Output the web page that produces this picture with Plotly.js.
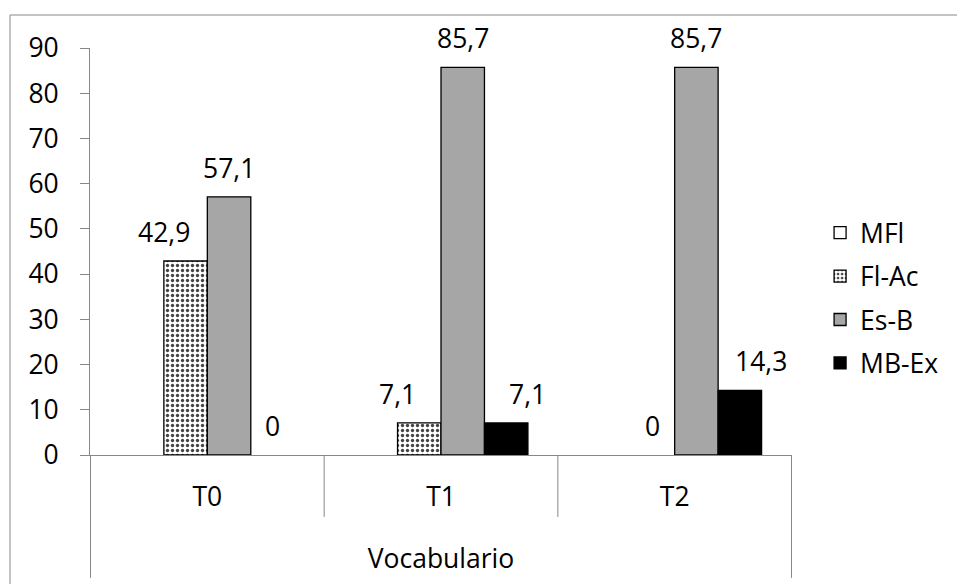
<!DOCTYPE html>
<html>
<head>
<meta charset="utf-8">
<script src="https://cdn.plot.ly/plotly-3.0.1.min.js"></script>
<style>html,body{margin:0;padding:0;background:#fff;}#chart{width:957px;height:584px;}</style>
</head>
<body>
<div id="chart"></div>
<script>
const categories = ["T0", "T1", "T2"];
const seriesNames = ["MFl", "Fl-Ac", "Es-B", "MB-Ex"];
const mfl  = [0, 0, 0];
const flac = [42.9, 7.1, 0];
const esb  = [57.1, 85.7, 85.7];
const mbex = [0, 7.1, 14.3];
const showLabels = [false, true, true, true];
const yTicks = [0, 10, 20, 30, 40, 50, 60, 70, 80, 90];
const xTitle = "Vocabulario";

const FONT = "Open Sans";
const FS = 26.5;
const GRAY = "#888888";
const values = [mfl, flac, esb, mbex];

const styles = [
  {color: "#ffffff"},
  {color: "#ffffff", pattern: {shape: ".", fgcolor: "#444444", bgcolor: "#ffffff", size: 5, solidity: 0.35}},
  {color: "#a6a6a6"},
  {color: "#000000"}
];

// zero-height bars are not drawn (as in the original), so their outline does not show
const traces = values.map((v, i) => ({
  type: "bar",
  name: seriesNames[i],
  x: categories,
  y: v.map(val => val === 0 ? null : val),
  legendgroup: "g" + i,
  marker: Object.assign({line: {color: "#000000", width: 1.3}}, styles[i]),
  hoverinfo: "x+y+name"
}));

const fmt = n => String(n).replace(".", ",");

// Data labels placed via data coordinates, with small Excel-like side offsets
const nS = values.length;
const bargap = 0.256;
const plotW = 957 - 90 - 165;
const catPx = plotW / categories.length;
const barPx = catPx * (1 - bargap) / nS;
const sideShift = [0, -22, 0, 21];
const annotations = [];
values.forEach((v, i) => {
  if (!showLabels[i]) return;
  v.forEach((val, j) => {
    const off = (i - (nS - 1) / 2) * barPx + (val > 0 ? sideShift[i] : 0);
    annotations.push({
      x: categories[j], y: val, xref: "x", yref: "y",
      text: fmt(val), showarrow: false,
      xanchor: "center", yanchor: "bottom",
      xshift: off, yshift: 9,
      font: {family: FONT, size: FS, color: "#000"}
    });
  });
});

const shapes = [];
// category dividers below the axis
[-0.5, 0.5, 1.5, 2.5].forEach((b, k) => {
  const outer = (k === 0 || k === 3);
  shapes.push({type: "line", xref: "x", yref: "paper", x0: b, x1: b, y0: 0, y1: outer ? -0.302 : -0.152,
    line: {color: GRAY, width: 1}});
});
// chart outer border
shapes.push({type: "rect", xref: "paper", yref: "paper",
  x0: (10 - 90) / plotW, x1: (970 - 90) / plotW,
  y0: (455 - 600) / 407, y1: (455 - 15) / 407,
  line: {color: GRAY, width: 1}, fillcolor: "rgba(0,0,0,0)", layer: "below"});

const layout = {
  width: 957, height: 584,
  margin: {l: 90, r: 165, t: 48, b: 129, pad: 0},
  paper_bgcolor: "#ffffff", plot_bgcolor: "#ffffff",
  font: {family: FONT, size: FS, color: "#000"},
  barmode: "group", bargap: bargap, bargroupgap: 0,
  showlegend: true,
  legend: {x: 1.04, xanchor: "left", y: 0.386, yanchor: "middle",
    font: {family: FONT, size: FS, color: "#000"}, tracegroupgap: 6,
    bgcolor: "rgba(0,0,0,0)", borderwidth: 0},
  xaxis: {
    type: "category", showgrid: false, zeroline: false,
    showline: true, linecolor: GRAY, linewidth: 1,
    ticks: "", ticklabelstandoff: 18,
    tickfont: {family: FONT, size: FS, color: "#000"},
    title: {text: xTitle, font: {family: FONT, size: FS, color: "#000"}, standoff: 36},
    automargin: false, fixedrange: true
  },
  yaxis: {
    range: [0, 90], tickvals: yTicks, ticktext: yTicks.map(String),
    showgrid: false, zeroline: false,
    showline: true, linecolor: GRAY, linewidth: 1,
    ticks: "outside", ticklen: 9, tickcolor: GRAY, tickwidth: 1,
    ticklabelstandoff: 16,
    tickfont: {family: FONT, size: FS, color: "#000"},
    automargin: false, fixedrange: true
  },
  shapes: shapes,
  annotations: annotations
};

Plotly.newPlot("chart", traces, layout, {displayModeBar: false, staticPlot: true});
</script>
</body>
</html>
